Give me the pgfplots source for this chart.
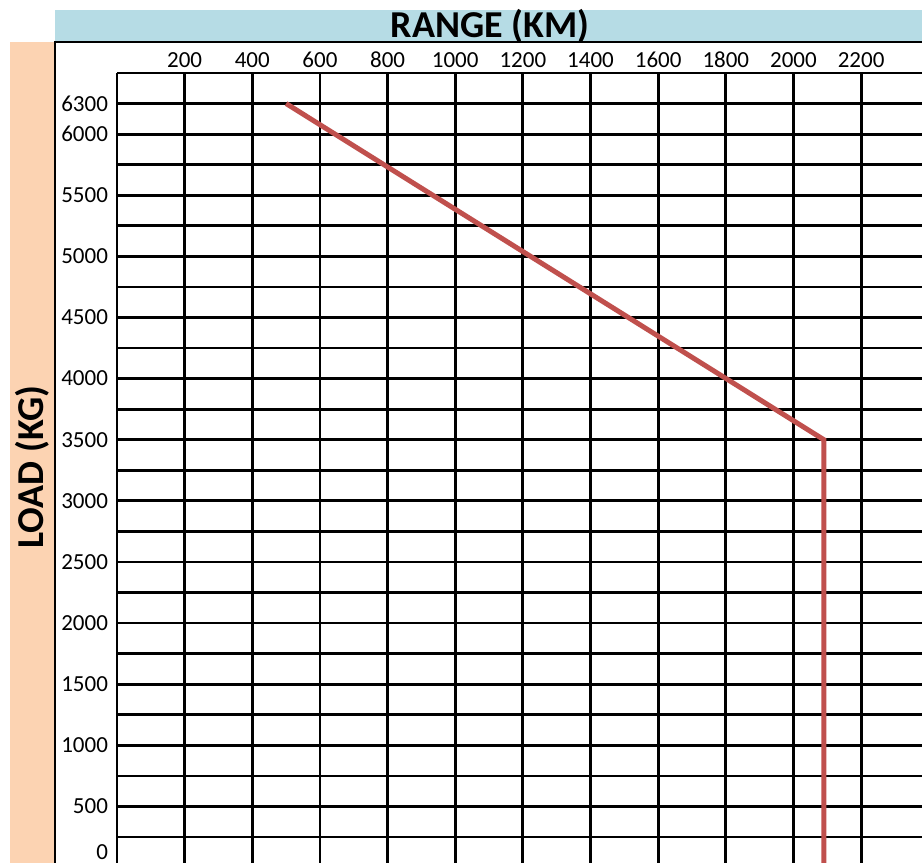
\documentclass[border=0pt]{standalone}
\usepackage{fontspec}
\setmainfont{Carlito}
\usepackage{pgfplots}
\pgfplotsset{compat=1.18}
\definecolor{hdrblue}{HTML}{B6DCE5}
\definecolor{sideorange}{HTML}{FCD3B2}
\definecolor{linered}{HTML}{C0504D}
\begin{document}
\begin{tikzpicture}[x=1pt,y=1pt]
\useasboundingbox (0,0) rectangle (461,431.5);
\fill[sideorange] (5,0) rectangle (27.5,410.5);
\fill[hdrblue] (27.5,410.5) rectangle (461,426.5);
\draw[line width=1.3pt] (461,410.5) -- (27.5,410.5) -- (27.5,0);
\node[font=\fontsize{19}{22}\selectfont\bfseries] at (245,418.5) {RANGE (KM)};
\node[rotate=90, font=\fontsize{19}{22}\selectfont\bfseries] at (16,198) {LOAD (KG)};
\begin{axis}[
  at={(58.5pt,0pt)}, anchor=south west, scale only axis,
  width=402.5pt, height=395pt,
  xmin=0, xmax=2380, ymin=37.5, ymax=6600,
  y coord trafo/.code={\pgfmathparse{ifthenelse(#1>6000,6000+(#1-6000)/1.2,#1)}},
  y coord inv trafo/.code={\pgfmathparse{ifthenelse(#1>6000,6000+(#1-6000)*1.2,#1)}},
  axis line style={draw=none},
  xtick={200,400,...,2200},
  xticklabels={200,400,600,800,1000,1200,1400,1600,1800,2000,2200},
  xticklabel pos=upper,
  ytick={500,1000,1500,2000,2500,3000,3500,4000,4500,5000,5500,6000,6300},
  yticklabels={500,1000,1500,2000,2500,3000,3500,4000,4500,5000,5500,6000,6300},
  minor ytick={250,750,1250,1750,2250,2750,3250,3750,4250,4750,5250,5750,6600},
  extra x ticks={0}, extra x tick labels={},
  extra x tick style={grid=major},
  extra y ticks={125}, extra y tick labels={0},
  extra y tick style={grid=none},
  grid=both,
  major grid style={black, line width=1.4pt},
  minor grid style={black, line width=1.4pt},
  major tick length=0pt, minor tick length=0pt,
  tick label style={font=\fontsize{11.5}{13}\selectfont},
  /pgf/number format/assume math mode=true,
  xticklabel style={yshift=-1pt},
  yticklabel style={xshift=-1pt},
]
\addplot[linered, line width=2.5pt] coordinates {(500,6300) (2090,3500) (2090,0)};
\end{axis}
\end{tikzpicture}
\end{document}
